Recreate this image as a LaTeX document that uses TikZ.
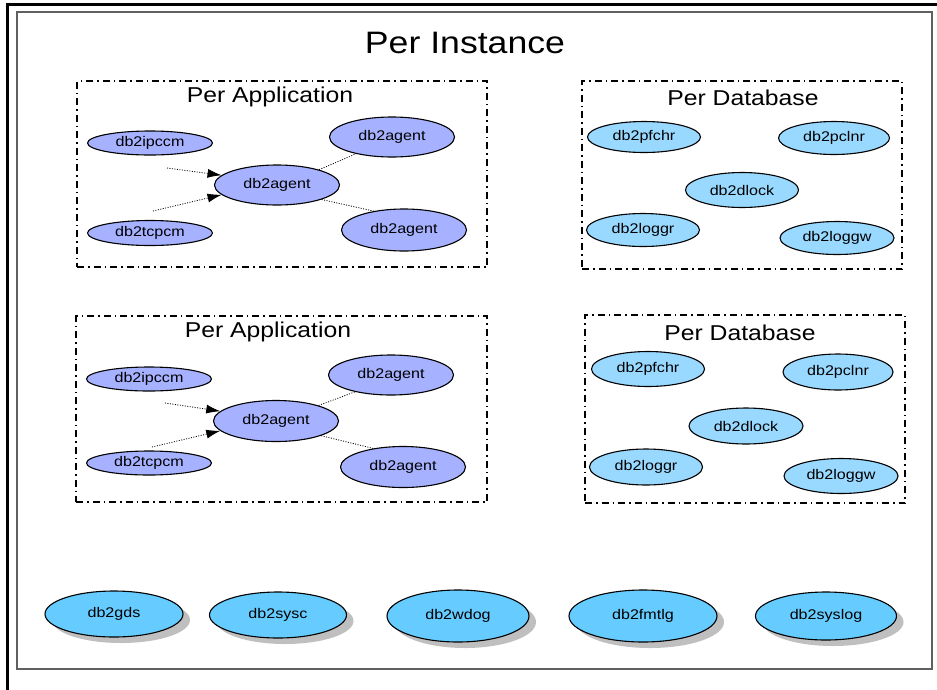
\documentclass[tikz,border=0pt]{standalone}
\usepackage{fontspec}
\setmainfont{Liberation Sans}[FakeStretch=1.15]
\usetikzlibrary{shapes.geometric,shadows,arrows.meta}
\definecolor{appblue}{RGB}{166,178,255}
\definecolor{dbblue}{RGB}{153,217,255}
\definecolor{instblue}{RGB}{102,204,255}
\definecolor{framegray}{RGB}{96,96,96}

\begin{document}
\begin{tikzpicture}[x=1pt,y=-1pt,
    proc/.style={ellipse,draw=black,line width=1.1pt,inner sep=0pt,font=\fontsize{14}{16}\selectfont},
    appproc/.style={proc,fill=appblue,minimum width=125pt,minimum height=40pt},
    dbproc/.style={proc,fill=dbblue,minimum width=113pt,minimum height=34pt},
    instproc/.style={proc,fill=instblue,minimum width=140pt,minimum height=48pt,
      drop shadow={shadow xshift=7pt,shadow yshift=-6pt,fill=black!25,opacity=1}},
    groupbox/.style={draw=black,line width=2.5pt,dash pattern=on 7pt off 4pt on 1.5pt off 4pt,inner sep=0pt},
    grouptitle/.style={font=\fontsize{21.5}{25}\selectfont},
    flow/.style={line width=0.8pt,dash pattern=on 1pt off 1.5pt,-{Latex[length=14pt,width=9pt]}},
    link/.style={line width=0.8pt,dash pattern=on 1pt off 1.5pt}]
      \clip (0,0) rectangle (937,689);
      \draw[line width=3pt] (7,700) -- (7,4) -- (950,4);
      \node[draw=framegray,line width=1.5pt,minimum width=915pt,minimum height=657pt] (inst) at (474.5,340.5){};
      \node[font=\fontsize{31}{36}\selectfont] (insttitle) at (465,43){Per Instance};

      % first application
      \node[groupbox,minimum width=410pt,minimum height=186pt] (app1) at (282,174){};
      \node[grouptitle] (apptitle1) at (270,97){Per Application};
      \node[appproc,minimum height=24pt] (ipc1) at (150,143){db2ipccm};
      \node[appproc] (agentA1) at (392,137){db2agent};
      \node[appproc] (agent1) at (277,185){db2agent};
      \node[appproc,minimum height=25pt] (tcp1) at (150,233){db2tcpcm};
      \node[appproc,minimum height=42pt] (agentB1) at (404,230){db2agent};
      \coordinate (ipcflow1) at (167,168);
      \coordinate (tcpflow1) at (153,211);

      % second application
      \node[groupbox,minimum width=411pt,minimum height=186pt] (app2) at (281.5,409){};
      \node[grouptitle] (apptitle2) at (268,332){Per Application};
      \node[appproc,minimum height=24pt] (ipc2) at (149,379){db2ipccm};
      \node[appproc] (agentA2) at (391,375){db2agent};
      \node[appproc,minimum height=41pt] (agent2) at (276,421){db2agent};
      \node[appproc,minimum height=24pt] (tcp2) at (149,463){db2tcpcm};
      \node[appproc,minimum height=41pt] (agentB2) at (403,467){db2agent};
      \coordinate (ipcflow2) at (165,403);
      \coordinate (tcpflow2) at (152,447);

      % first database
      \node[groupbox,minimum width=320pt,minimum height=188pt] (db1) at (742,175){};
      \node[grouptitle] (dbtitle1) at (743,98){Per Database};
      \node[dbproc,minimum height=31pt] (pfchr1) at (644,137){db2pfchr};
      \node[dbproc,minimum width=111pt,minimum height=33pt] (pclnr1) at (834,138){db2pclnr};
      \node[dbproc,minimum height=35pt] (dlock1) at (742,190){db2dlock};
      \node[dbproc,minimum height=33pt] (loggr1) at (643,230){db2loggr};
      \node[dbproc,minimum width=114pt,minimum height=33pt] (loggw1) at (837,238){db2loggw};

      % second database
      \node[groupbox,minimum width=320pt,minimum height=188pt] (db2) at (745,409){};
      \node[grouptitle] (dbtitle2) at (740,333){Per Database};
      \node[dbproc,minimum height=35pt] (pfchr2) at (648,369){db2pfchr};
      \node[dbproc,minimum width=110pt,minimum height=36pt] (pclnr2) at (838,372){db2pclnr};
      \node[dbproc,minimum width=114pt,minimum height=36pt] (dlock2) at (746,426){db2dlock};
      \node[dbproc,minimum height=36pt] (loggr2) at (646,467){db2loggr};
      \node[dbproc,minimum width=114pt,minimum height=35pt] (loggw2) at (841,476){db2loggw};

      % per instance processes
      \node[instproc,minimum width=138pt,minimum height=46pt] (gds) at (114,614){db2gds};
      \node[instproc,minimum width=137pt,minimum height=46pt] (sysc) at (278,615){db2sysc};
      \node[instproc,minimum width=142pt,minimum height=52pt] (wdog) at (458,616){db2wdog};
      \node[instproc,minimum width=148pt,minimum height=52pt] (fmtlg) at (643,616){db2fmtlg};
      \node[instproc,minimum width=141pt] (syslog) at (826,616){db2syslog};

      \draw[flow] (ipcflow1) -- (agent1.170);
      \draw[flow] (tcpflow1) -- (agent1.190);
      \draw[link] (agent1.20) -- (agentA1.205);
      \draw[link] (agent1.342) -- (agentB1.148);
      \draw[flow] (ipcflow2) -- (agent2.170);
      \draw[flow] (tcpflow2) -- (agent2.190);
      \draw[link] (agent2.20) -- (agentA2.205);
      \draw[link] (agent2.342) -- (agentB2.148);
\end{tikzpicture}
\end{document}
